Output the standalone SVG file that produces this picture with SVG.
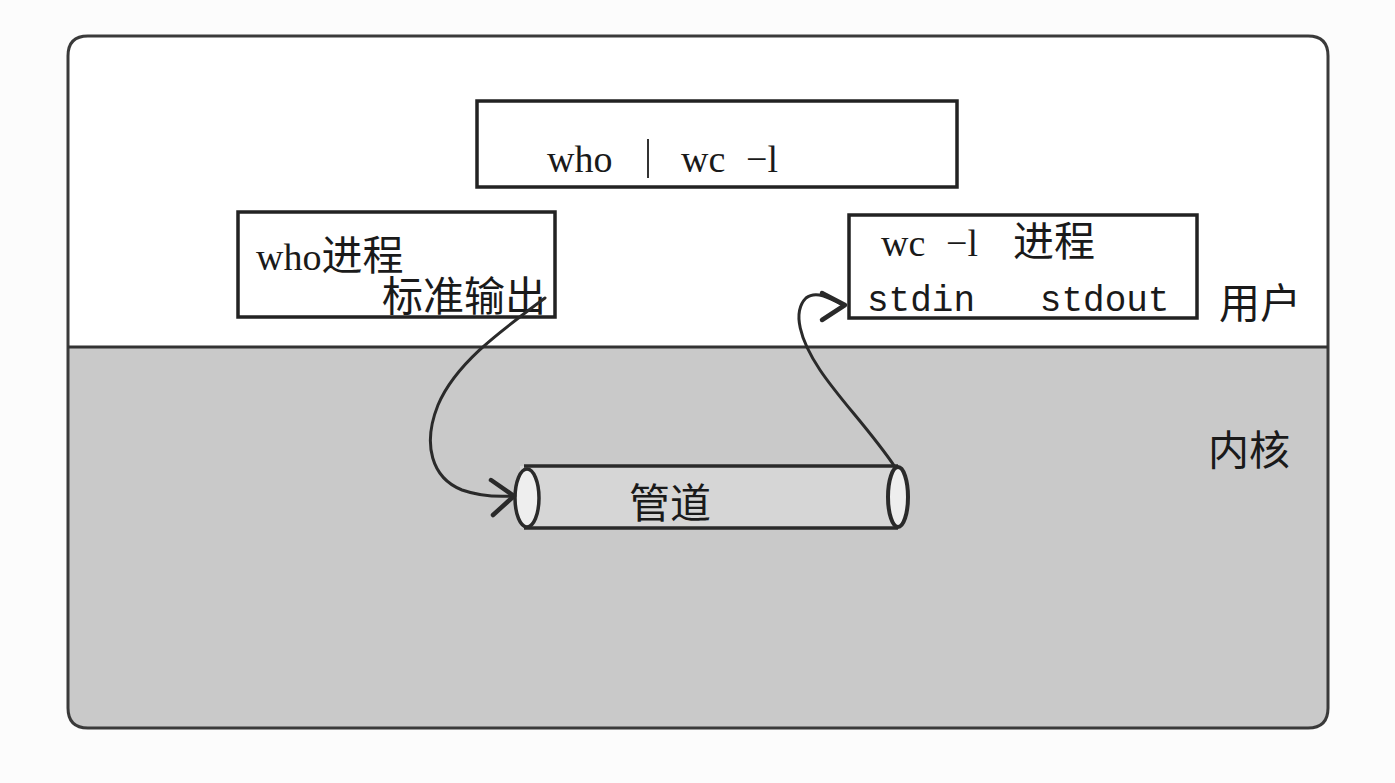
<svg xmlns="http://www.w3.org/2000/svg" width="1395" height="783" viewBox="0 0 1395 783">
<defs>
<style>
.box{fill:#fff;stroke:#222;stroke-width:3.5}
.serif{font-family:"Liberation Serif","DejaVu Serif",serif;fill:#1a1a1a;font-size:38px}
.mono{font-family:"Liberation Mono","DejaVu Sans Mono",monospace;fill:#1a1a1a;font-size:36px}
.cjk{font-family:"Noto Sans CJK SC",sans-serif;fill:#1a1a1a;font-size:41px}
.conn{fill:none;stroke:#2a2a2a;stroke-width:3;stroke-linecap:round}
.head{fill:none;stroke:#2a2a2a;stroke-width:4.5;stroke-linecap:round;stroke-linejoin:round}
</style>
<clipPath id="lower"><rect x="0" y="347" width="1395" height="436"/></clipPath>
</defs>
<rect width="1395" height="783" fill="#fcfcfc"/>
<g id="frame">
<path d="M88,36 H1308 Q1328,36 1328,56 V708 Q1328,728 1308,728 H88 Q68,728 68,708 V56 Q68,36 88,36 Z" fill="#fff"/>
<path clip-path="url(#lower)" d="M88,36 H1308 Q1328,36 1328,56 V708 Q1328,728 1308,728 H88 Q68,728 68,708 V56 Q68,36 88,36 Z" fill="#c9c9c9"/>
<path d="M88,36 H1308 Q1328,36 1328,56 V708 Q1328,728 1308,728 H88 Q68,728 68,708 V56 Q68,36 88,36 Z" fill="none" stroke="#3a3a3a" stroke-width="3"/>
<line x1="68" y1="347" x2="1328" y2="347" stroke="#333" stroke-width="3"/>
<text class="cjk" x="1219" y="318">用户</text>
<text class="cjk" x="1208" y="465">内核</text>
</g>
<g id="cmd">
<rect class="box" x="477" y="101" width="480" height="86"/>
<text class="serif" x="547" y="172">who</text>
<line x1="648" y1="139" x2="648" y2="178" stroke="#333" stroke-width="2"/>
<text class="serif" x="681" y="172">wc</text>
<text class="serif" x="746" y="172">−l</text>
</g>
<g id="who">
<rect class="box" x="238" y="212" width="317" height="105"/>
<text x="256" y="270"><tspan class="serif">who</tspan><tspan class="cjk">进程</tspan></text>
<text class="cjk" x="382" y="311">标准输出</text>
</g>
<g id="wc">
<rect class="box" x="849" y="215" width="348" height="103"/>
<text class="serif" x="881" y="256">wc</text>
<text class="serif" x="946" y="256">−l</text>
<text class="cjk" x="1013" y="256">进程</text>
<text class="mono" x="867" y="311" xml:space="preserve">stdin   stdout</text>
</g>
<g id="pipe">
<rect x="520" y="466" width="380" height="62" fill="#d6d6d6" stroke="none"/>
<line x1="524" y1="466" x2="898" y2="466" stroke="#2a2a2a" stroke-width="3.5"/>
<line x1="524" y1="528" x2="898" y2="528" stroke="#2a2a2a" stroke-width="3.5"/>
<ellipse cx="527" cy="498" rx="12" ry="29" fill="#eee" stroke="#2a2a2a" stroke-width="3.5"/>
<ellipse cx="898" cy="497" rx="10" ry="30" fill="#eee" stroke="#2a2a2a" stroke-width="4"/>
<text class="cjk" x="629" y="518">管道</text>
</g>
<g id="connectors">
<path class="conn" d="M545,298 C495,335 455,365 438,405 C422,445 432,478 462,490 C482,497 498,497 513,496"/>
<path class="head" d="M491,480 L514,496 L493,515"/>
<path class="conn" d="M895,467 C870,430 840,400 820,370 C800,340 792,312 806,298 C816,290 830,298 843,305"/>
<path class="head" d="M822,293 L845,305 L822,320"/>
</g>
</svg>
